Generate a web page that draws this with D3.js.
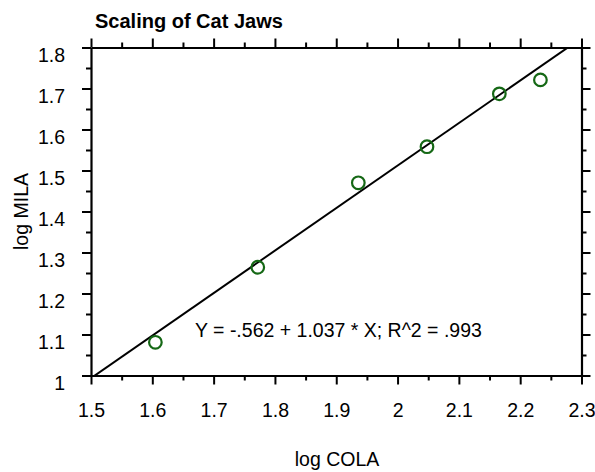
<!DOCTYPE html>
<html><head><meta charset="utf-8">
<script src="https://cdn.jsdelivr.net/npm/d3@7"></script>
<style>body{margin:0;background:#fff}svg{display:block}text{font-family:Arial,"Liberation Sans",sans-serif}</style>
</head><body>
<svg id="c" width="595" height="472"></svg>
<script>
const logCOLA = [1.605, 1.772, 1.936, 2.048, 2.166, 2.233];
const logMILA = [1.081, 1.264, 1.470, 1.558, 1.687, 1.721];
const xTicks = [1.5, 1.6, 1.7, 1.8, 1.9, 2, 2.1, 2.2, 2.3];
const yTicks = [1, 1.1, 1.2, 1.3, 1.4, 1.5, 1.6, 1.7, 1.8];
const fitIntercept = -0.562, fitSlope = 1.037;
const title = "Scaling of Cat Jaws";
const fitLabel = "Y = -.562 + 1.037 * X; R^2 = .993";
const xLabel = "log COLA", yLabel = "log MILA";

const svg = d3.select("#c");
const L = 91, R = 581.5, T = 47.5, B = 375.5;
const FS = 19.5;
const x = d3.scaleLinear().domain([1.5, 2.3]).range([L, R]);
const y = d3.scaleLinear().domain([1, 1.8]).range([B, T]);
const minorX = d3.range(1.55, 2.3, 0.1);
const minorY = d3.range(1.05, 1.8, 0.1);

function fmt(v){ return String(+v.toFixed(2)); }

function drawAxis(orient, transform, scale, ticks, minor, labels, pad) {
  const gen = orient === "bottom" ? d3.axisBottom : orient === "top" ? d3.axisTop : orient === "left" ? d3.axisLeft : d3.axisRight;
  const g = svg.append("g").attr("transform", transform)
    .call(gen(scale).tickValues(ticks).tickSize(9).tickSizeOuter(0).tickPadding(pad || 0).tickFormat(labels ? fmt : () => ""));
  const gm = svg.append("g").attr("transform", transform)
    .call(gen(scale).tickValues(minor).tickSize(5).tickSizeOuter(0).tickFormat(() => ""));
  gm.select(".domain").remove();
  [g, gm].forEach(s => {
    s.selectAll("line").attr("stroke", "#000").attr("stroke-width", 2);
    s.select(".domain").attr("stroke", "#000").attr("stroke-width", 2.2);
    s.selectAll("text").attr("font-size", FS).attr("fill", "#000").style("font-family", "Arial, 'Liberation Sans', sans-serif");
  });
  return g;
}
drawAxis("bottom", `translate(0,${B})`, x, xTicks, minorX, true, 19);
drawAxis("top", `translate(0,${T})`, x, xTicks, minorX, false);
const gy = drawAxis("left", `translate(${L},0)`, y, yTicks, minorY, true, 17);
gy.selectAll("text").attr("dy", "0.72em");
drawAxis("right", `translate(${R},0)`, y, yTicks, minorY, false);

// fit line clipped to plot
svg.append("clipPath").attr("id", "clip").append("rect").attr("x", L).attr("y", T).attr("width", R - L).attr("height", B - T);
const x0 = 1.5, x1 = 2.3;
svg.append("line").attr("clip-path", "url(#clip)")
  .attr("x1", x(x0)).attr("y1", y(fitIntercept + fitSlope * x0))
  .attr("x2", x(x1)).attr("y2", y(fitIntercept + fitSlope * x1))
  .attr("stroke", "#000").attr("stroke-width", 2);

// points
svg.append("g").selectAll("circle").data(logCOLA).enter().append("circle")
  .attr("cx", d => x(d)).attr("cy", (d, i) => y(logMILA[i])).attr("r", 6.3)
  .attr("fill", "none").attr("stroke", "#156815").attr("stroke-width", 2.2);

// texts
svg.append("text").attr("x", 95).attr("y", 27.5).attr("font-size", 20).attr("font-weight", "bold").text(title);
svg.append("text").attr("x", 195).attr("y", 337).attr("font-size", FS).text(fitLabel);
svg.append("text").attr("x", 337).attr("y", 466).attr("text-anchor", "middle").attr("font-size", FS).text(xLabel);
svg.append("text").attr("transform", `translate(28,${(T + B) / 2}) rotate(-90)`).attr("text-anchor", "middle").attr("font-size", FS).text(yLabel);
</script>
</body></html>
